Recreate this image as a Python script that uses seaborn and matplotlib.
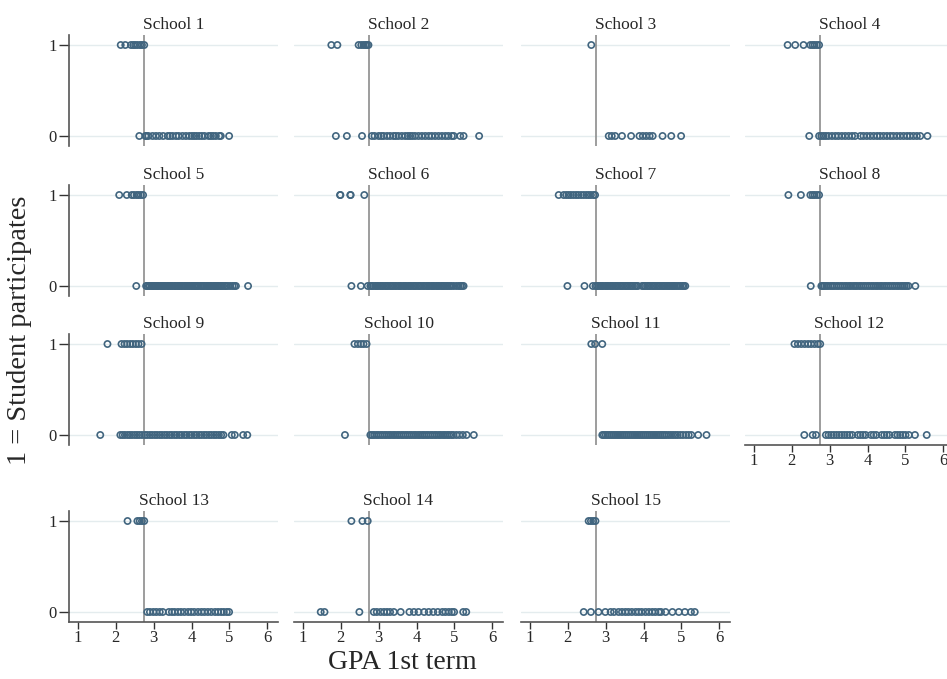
import numpy as np
import pandas as pd
import matplotlib
matplotlib.use("Agg")
import matplotlib.pyplot as plt
import seaborn as sns

sns.set_style("white")
plt.rcParams["font.family"] = ["Liberation Serif", "DejaVu Serif"]

cutoff = 2.75

# GPA values, per school: participants (y=1) and not (y=0)
school1_y1 = [2.13, 2.25, 2.40, 2.46, 2.51, 2.57, 2.64, 2.69, 2.75]
school1_y0 = [2.62, 2.78, 2.81, 2.86, 2.97, 3.06, 3.15, 3.25, 3.37, 3.43, 3.50,
              3.59, 3.66, 3.76, 3.85, 3.94, 4.01, 4.07, 4.13, 4.20, 4.27, 4.34,
              4.45, 4.51, 4.57, 4.64, 4.73, 4.77, 4.99]
school2_y1 = [1.75, 1.91, 2.47, 2.54, 2.60, 2.65, 2.69, 2.73]
school2_y0 = [1.87, 2.16, 2.56, 2.82, 2.89, 3.00, 3.07, 3.13, 3.22, 3.30, 3.39,
              3.45, 3.52, 3.61, 3.70, 3.77, 3.83, 3.89, 3.96, 4.05, 4.14, 4.23,
              4.32, 4.40, 4.49, 4.58, 4.67, 4.76, 4.84, 4.93, 4.98, 5.15, 5.24, 5.65]
school3_y1 = [2.62]
school3_y0 = [3.08, 3.16, 3.25, 3.43, 3.67, 3.89, 3.98, 4.07, 4.16, 4.24, 4.50,
              4.73, 4.99]
school4_y1 = [1.89, 2.09, 2.31, 2.49, 2.55, 2.60, 2.66, 2.72]
school4_y0 = [2.46, 2.72, 2.78, 2.84, 2.90, 2.97, 3.06, 3.15, 3.23, 3.32, 3.41,
              3.50, 3.59, 3.67, 3.81, 3.89, 3.98, 4.07, 4.16, 4.25, 4.33, 4.42,
              4.51, 4.60, 4.68, 4.77, 4.86, 4.95, 5.04, 5.12, 5.21, 5.30, 5.39, 5.58]
school5_y1 = [2.09, 2.29, 2.42, 2.48, 2.55, 2.60, 2.66, 2.72]
school5_y0 = [2.54, 2.80, 2.83, 2.87, 2.90, 2.95, 2.98, 3.01, 3.06, 3.09, 3.12,
              3.17, 3.20, 3.24, 3.27, 3.31, 3.36, 3.38, 3.43, 3.46, 3.50, 3.55,
              3.57, 3.62, 3.65, 3.69, 3.73, 3.76, 3.81, 3.84, 3.88, 3.92, 3.95,
              4.00, 4.03, 4.07, 4.11, 4.14, 4.18, 4.23, 4.26, 4.30, 4.33, 4.38,
              4.41, 4.45, 4.49, 4.52, 4.57, 4.60, 4.64, 4.68, 4.71, 4.76, 4.79,
              4.83, 4.88, 4.91, 4.96, 5.02, 5.08, 5.13, 5.17, 5.49]
school6_y1 = [1.98, 1.99, 2.25, 2.26, 2.62]
school6_y0 = [2.28, 2.53, 2.71, 2.78, 2.82, 2.86, 2.91, 2.95, 2.99, 3.04, 3.08,
              3.12, 3.17, 3.21, 3.25, 3.30, 3.34, 3.38, 3.43, 3.47, 3.52, 3.56,
              3.60, 3.65, 3.69, 3.73, 3.78, 3.82, 3.86, 3.91, 3.95, 3.99, 4.04,
              4.08, 4.12, 4.17, 4.21, 4.26, 4.30, 4.34, 4.39, 4.43, 4.47, 4.52,
              4.56, 4.60, 4.65, 4.69, 4.73, 4.78, 4.82, 4.87, 4.92, 4.98, 5.05,
              5.11, 5.16, 5.20, 5.24]
school7_y1 = [1.76, 1.89, 1.96, 2.02, 2.08, 2.15, 2.22, 2.28, 2.35, 2.42, 2.49,
              2.55, 2.61, 2.68, 2.72]
school7_y0 = [1.99, 2.44, 2.66, 2.73, 2.77, 2.81, 2.86, 2.90, 2.94, 2.99, 3.03,
              3.07, 3.12, 3.16, 3.20, 3.25, 3.29, 3.33, 3.38, 3.42, 3.46, 3.51,
              3.55, 3.59, 3.64, 3.68, 3.72, 3.77, 3.81, 3.85, 3.96, 4.00, 4.04,
              4.09, 4.13, 4.17, 4.22, 4.26, 4.30, 4.35, 4.39, 4.43, 4.48, 4.52,
              4.56, 4.61, 4.65, 4.69, 4.74, 4.78, 4.82, 4.87, 4.92, 4.97, 5.02,
              5.06, 5.10]
school8_y1 = [1.91, 2.24, 2.49, 2.55, 2.60, 2.66, 2.72]
school8_y0 = [2.50, 2.78, 2.82, 2.86, 2.91, 2.96, 3.02, 3.07, 3.12, 3.18, 3.23,
              3.29, 3.34, 3.40, 3.45, 3.51, 3.56, 3.62, 3.67, 3.72, 3.78, 3.83,
              3.89, 3.94, 4.00, 4.05, 4.11, 4.16, 4.22, 4.27, 4.33, 4.38, 4.44,
              4.49, 4.55, 4.60, 4.66, 4.71, 4.77, 4.82, 4.88, 4.93, 4.98, 5.03,
              5.08, 5.26]
school9_y1 = [1.78, 2.15, 2.23, 2.30, 2.38, 2.45, 2.53, 2.60, 2.68]
school9_y0 = [1.59, 2.12, 2.18, 2.24, 2.31, 2.37, 2.43, 2.50, 2.56, 2.62, 2.69,
              2.77, 2.83, 2.90, 2.96, 3.03, 3.09, 3.16, 3.22, 3.29, 3.35, 3.42,
              3.48, 3.55, 3.61, 3.68, 3.74, 3.81, 3.87, 3.94, 4.00, 4.07, 4.13,
              4.20, 4.26, 4.33, 4.39, 4.46, 4.52, 4.59, 4.65, 4.72, 4.78, 4.84,
              5.06, 5.14, 5.36, 5.47]
school10_y1 = [2.36, 2.45, 2.53, 2.60, 2.68]
school10_y0 = [2.11, 2.78, 2.83, 2.88, 2.94, 2.99, 3.05, 3.10, 3.16, 3.21, 3.27,
               3.32, 3.38, 3.43, 3.49, 3.54, 3.60, 3.65, 3.71, 3.76, 3.82, 3.87,
               3.93, 3.98, 4.04, 4.09, 4.15, 4.20, 4.26, 4.31, 4.37, 4.42, 4.48,
               4.53, 4.59, 4.64, 4.70, 4.75, 4.81, 4.86, 4.92, 4.97, 5.05, 5.13,
               5.22, 5.32, 5.51]
school11_y1 = [2.62, 2.72, 2.91]
school11_y0 = [2.91, 2.95, 3.00, 3.05, 3.10, 3.15, 3.20, 3.25, 3.30, 3.35, 3.40,
               3.45, 3.50, 3.55, 3.60, 3.65, 3.70, 3.75, 3.80, 3.85, 3.90, 3.95,
               4.00, 4.05, 4.10, 4.15, 4.20, 4.25, 4.30, 4.35, 4.40, 4.45, 4.50,
               4.55, 4.60, 4.66, 4.72, 4.78, 4.84, 4.90, 4.97, 5.04, 5.12, 5.19,
               5.26, 5.44, 5.66]
school12_y1 = [2.07, 2.16, 2.25, 2.34, 2.43, 2.51, 2.60, 2.69, 2.75]
school12_y0 = [2.33, 2.55, 2.64, 2.90, 2.97, 3.04, 3.11, 3.18, 3.25, 3.32, 3.39,
               3.46, 3.53, 3.60, 3.74, 3.81, 3.88, 3.95, 4.09, 4.16, 4.23, 4.37,
               4.44, 4.51, 4.58, 4.72, 4.79, 4.86, 4.93, 5.00, 5.09, 5.25, 5.56]
school13_y1 = [2.31, 2.57, 2.63, 2.69, 2.75]
school13_y0 = [2.83, 2.90, 2.99, 3.07, 3.16, 3.24, 3.40, 3.48, 3.55, 3.64, 3.72,
               3.81, 3.91, 3.99, 4.07, 4.17, 4.26, 4.34, 4.43, 4.52, 4.62, 4.70,
               4.78, 4.85, 4.93, 4.99]
school14_y1 = [2.28, 2.57, 2.71]
school14_y0 = [1.47, 1.57, 2.49, 2.87, 2.95, 3.05, 3.14, 3.22, 3.30, 3.40, 3.58,
               3.81, 3.93, 4.05, 4.20, 4.32, 4.44, 4.56, 4.68, 4.76, 4.85, 4.93,
               4.99, 5.23, 5.31]
school15_y1 = [2.55, 2.61, 2.67, 2.73]
school15_y0 = [2.42, 2.61, 2.81, 2.99, 3.13, 3.22, 3.34, 3.43, 3.52, 3.60, 3.69,
               3.79, 3.87, 3.95, 4.05, 4.14, 4.23, 4.31, 4.40, 4.46, 4.58, 4.76,
               4.93, 5.09, 5.25, 5.35]

schools = [f"School {i}" for i in range(1, 16)]
participants = [school1_y1, school2_y1, school3_y1, school4_y1, school5_y1,
                school6_y1, school7_y1, school8_y1, school9_y1, school10_y1,
                school11_y1, school12_y1, school13_y1, school14_y1, school15_y1]
nonparticipants = [school1_y0, school2_y0, school3_y0, school4_y0, school5_y0,
                   school6_y0, school7_y0, school8_y0, school9_y0, school10_y0,
                   school11_y0, school12_y0, school13_y0, school14_y0, school15_y0]

rows = []
for name, y1, y0 in zip(schools, participants, nonparticipants):
    rows += [(name, x, 1) for x in y1]
    rows += [(name, x, 0) for x in y0]
df = pd.DataFrame(rows, columns=["school", "gpa", "participates"])

marker_color = "#41657f"
grid_color = "#e4ecee"

W, H = 947, 679
fig = plt.figure(figsize=(W / 100, H / 100), dpi=100)
lefts = [69, 294, 521, 745]
tops = [35, 185, 334, 511]
aw, ah = 209, 111
bottom_panels = {"School 12", "School 13", "School 14", "School 15"}

for i, name in enumerate(schools):
    r, c = divmod(i, 4)
    ax = fig.add_axes([lefts[c] / W, 1 - (tops[r] + ah) / H, aw / W, ah / H])
    for yv in (0, 1):
        ax.axhline(yv, color=grid_color, lw=1.0, zorder=0)
    ax.axvline(cutoff, color="#8c8c8c", lw=1.2, zorder=1)
    sns.scatterplot(data=df[df.school == name], x="gpa", y="participates", ax=ax,
                    marker="o", s=20, facecolor="none", edgecolor=marker_color,
                    linewidth=1.2, zorder=3)
    ax.set_xlim(0.765, 6.28)
    ax.set_ylim(-0.11, 1.11)
    ax.set_xlabel("")
    ax.set_ylabel("")
    ax.set_title(name, fontsize=12.5, pad=4)
    for side in ("top", "right"):
        ax.spines[side].set_visible(False)
    ax.spines["left"].set_visible(c == 0)
    ax.spines["bottom"].set_visible(name in bottom_panels)
    ax.spines["left"].set_color("#555555")
    ax.spines["bottom"].set_color("#555555")
    ax.spines["left"].set_linewidth(1.2)
    ax.spines["bottom"].set_linewidth(1.2)
    if c == 0:
        ax.set_yticks([0, 1])
        ax.tick_params(axis="y", left=True, length=7, width=1.0, labelsize=12,
                       color="#333333", pad=2)
    else:
        ax.set_yticks([])
    if name in bottom_panels:
        ax.set_xticks([1, 2, 3, 4, 5, 6])
        ax.tick_params(axis="x", bottom=True, length=5, width=1.0, labelsize=12,
                       color="#333333", pad=1)
    else:
        ax.set_xticks([])

fig.text(0.021, 0.514, "1 = Student participates", rotation=90, fontsize=20.5,
         ha="center", va="center")
fig.text(0.4245, 0.024, "GPA 1st term", fontsize=20, ha="center", va="center")

fig.savefig("out.png", dpi=100)
